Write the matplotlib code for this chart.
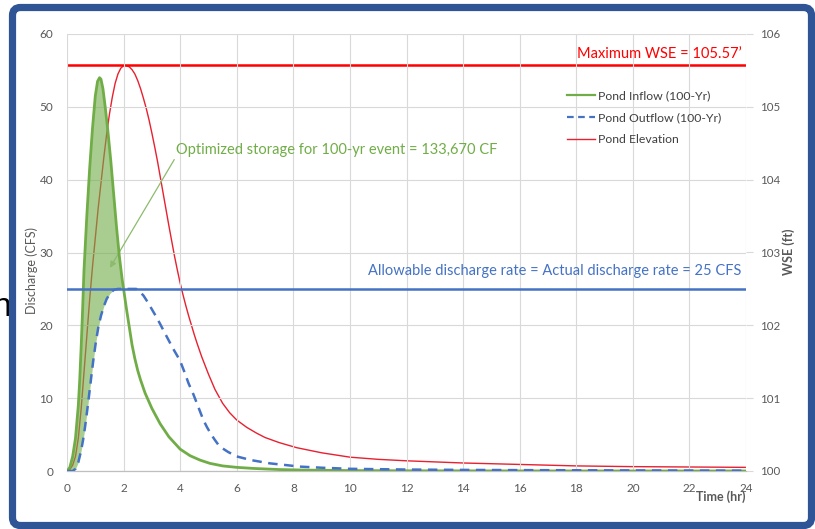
import matplotlib
matplotlib.use("Agg")
import matplotlib.pyplot as plt
import numpy as np
from matplotlib.patches import FancyBboxPatch
from matplotlib.transforms import IdentityTransform
from matplotlib.lines import Line2D

# ---------------- data ----------------
inflow_t = [0, 0.1, 0.2, 0.3, 0.4, 0.45, 0.5, 0.55, 0.6, 0.7, 0.8, 0.9, 1.0, 1.08, 1.15,
            1.2, 1.27, 1.35, 1.45, 1.55, 1.65, 1.75, 1.85, 1.95, 2.0, 2.1, 2.2, 2.3, 2.4,
            2.5, 2.6, 2.76, 3.0, 3.29, 3.6, 4.0, 4.35, 4.7, 5.05, 5.5, 6.0, 6.6, 7.5, 8.5,
            10, 12, 16, 20, 24]
inflow_q = [0, 0.5, 2.0, 4.5, 9.0, 12.5, 17.0, 22.0, 27.5, 35.0, 41.5, 47.0, 51.5, 53.5, 54.0,
            53.8, 52.5, 50.0, 46.5, 42.5, 38.0, 33.5, 29.5, 26.3, 25.0, 22.3, 19.8, 17.3, 15.4,
            13.8, 12.5, 10.7, 8.6, 6.5, 4.7, 3.0, 2.1, 1.5, 1.05, 0.7, 0.5, 0.35, 0.2, 0.12,
            0.06, 0.03, 0.01, 0.0, 0.0]

outflow_t = [0, 0.2, 0.3, 0.4, 0.5, 0.57, 0.64, 0.72, 0.79, 0.86, 0.93, 1.02, 1.11, 1.2, 1.3,
             1.4, 1.52, 1.65, 1.8, 2.45, 2.55, 2.7, 2.85, 3.0, 3.15, 3.29, 3.45, 3.6, 3.75,
             3.9, 4.0, 4.15, 4.3, 4.47, 4.6, 4.72, 4.82, 4.95, 5.1, 5.22, 5.35, 5.5, 5.7, 6.0,
             6.5, 7.17, 8.24, 9, 10, 12, 14, 16, 20, 24]
outflow_q = [0, 0, 0.3, 1.2, 2.8, 4.3, 6.1, 8.5, 10.7, 13.0, 15.2, 17.7, 19.8, 21.3, 22.6,
             23.6, 24.4, 24.85, 25.0, 25.0, 24.7, 24.1, 23.2, 22.2, 21.2, 20.2, 19.0, 17.9, 16.8,
             15.8, 15.1, 13.6, 12.0, 10.5, 9.2, 8.0, 7.0, 6.0, 5.0, 4.3, 3.6, 3.1, 2.6, 2.0,
             1.5, 1.05, 0.6, 0.45, 0.3, 0.2, 0.15, 0.12, 0.08, 0.05]

wse_t = [0, 0.1, 0.2, 0.3, 0.4, 0.5, 0.6, 0.7, 0.8, 0.9, 1.0, 1.1, 1.2, 1.3, 1.4, 1.5, 1.6,
         1.7, 1.8, 1.9, 2.0, 2.05, 2.2, 2.3, 2.4, 2.5, 2.6, 2.7, 2.8, 2.9, 3.0, 3.1, 3.2,
         3.3, 3.4, 3.5, 3.6, 3.7, 3.8, 3.9, 4.0, 4.1, 4.2, 4.3, 4.4, 4.5, 4.6, 4.76, 4.9, 5.0,
         5.23, 5.5, 5.75, 6.0, 6.35, 6.7, 7.0, 7.5, 8.12, 9, 10, 11, 12, 14, 16, 18, 20, 22, 24]
wse_ft = [100.0, 100.02, 100.08, 100.2, 100.45, 100.85, 101.35, 101.85, 102.35, 102.8, 103.2,
          103.6, 103.95, 104.3, 104.62, 104.9, 105.13, 105.32, 105.45, 105.53, 105.565, 105.57,
          105.55, 105.51, 105.45, 105.36, 105.25, 105.12, 104.98, 104.82, 104.64, 104.45,
          104.25, 104.03, 103.81, 103.59, 103.37, 103.16, 102.95, 102.76, 102.58, 102.42,
          102.27, 102.13, 102.0, 101.87, 101.75, 101.57, 101.43, 101.33, 101.12, 100.93,
          100.8, 100.7, 100.6, 100.52, 100.46, 100.39, 100.32, 100.25, 100.19, 100.16,
          100.14, 100.11, 100.09, 100.07, 100.06, 100.055, 100.05]

max_wse = 105.57
allowable_q = 25
storage_cf = "133,670"

x_ticks = list(range(0, 25, 2))
q_ticks = list(range(0, 61, 10))
wse_ticks = list(range(100, 107))

series_labels = ["Pond Inflow (100-Yr)", "Pond Outflow (100-Yr)", "Pond Elevation"]

# ---------------- styling ----------------
FONT = ["Lato", "DejaVu Sans"]
plt.rcParams['font.family'] = FONT
GREEN = "#70AD47"
BLUE = "#4472C4"
RED_LINE = "#E8202F"
RED_MAX = "#FF0000"
GRID = "#D9D9D9"
TICKC = "#595959"

W, H = 815, 529
fig = plt.figure(figsize=(W / 100, H / 100), dpi=100)
fig.patch.set_facecolor("white")

L, R, T, B = 67, 746, 34, 471
ax = fig.add_axes([L / W, 1 - B / H, (R - L) / W, (B - T) / H])
ax2 = ax.twinx()

ax.set_xlim(0, 24)
ax.set_ylim(0, 60)
ax2.set_ylim(100, 106)

ax.set_xticks(x_ticks)
ax.set_yticks(q_ticks)
ax2.set_yticks(wse_ticks)

ax.grid(True, color=GRID, lw=0.8)
ax.set_axisbelow(True)
for a in (ax, ax2):
    for s in a.spines.values():
        s.set_visible(False)
ax.spines['bottom'].set_visible(True)
ax.spines['bottom'].set_color("#BFBFBF")
ax.spines['bottom'].set_linewidth(0.9)

ax.tick_params(axis='x', length=0, pad=9, labelsize=8.5, labelcolor=TICKC)
ax.tick_params(axis='y', length=0, pad=10, labelsize=8.5, labelcolor=TICKC)
ax2.tick_params(axis='y', length=5, width=0.8, color=GRID, pad=5, labelsize=8.3, labelcolor=TICKC)

# WSE on right axis
ax2.plot(wse_t, wse_ft, color=RED_LINE, lw=1.0, zorder=2)
ax2.axhline(max_wse, color=RED_MAX, lw=1.8, zorder=3)

# flows on left axis, drawn above the WSE axis
ax.set_zorder(ax2.get_zorder() + 1)
ax.patch.set_visible(False)

tt = np.union1d(inflow_t, outflow_t)
qi = np.interp(tt, inflow_t, inflow_q)
qo = np.interp(tt, outflow_t, outflow_q)
ax.fill_between(tt, qi, qo, where=(qi >= qo) & (tt <= 2.05), interpolate=True,
                color=GREEN, alpha=0.6, lw=0, zorder=2)

ax.plot(inflow_t, inflow_q, color=GREEN, lw=2.0, zorder=4)
ax.plot(outflow_t, outflow_q, color=BLUE, lw=1.8, ls=(0, (3.8, 2.6)), zorder=4)
ax.axhline(allowable_q, color=BLUE, lw=1.8, zorder=5)

# annotations
ax.text(23.85, 57.3, f"Maximum WSE = {max_wse}\u2019", color=RED_MAX, fontsize=10.5,
        ha="right", va="center")
ax.text(23.85, 27.4, f"Allowable discharge rate = Actual discharge rate = {allowable_q} CFS",
        color=BLUE, fontsize=10.5, ha="right", va="center")
ax.annotate(f"Optimized storage for 100-yr event = {storage_cf} CF",
            xy=(1.52, 27.9), xytext=(3.85, 44.1), color=GREEN, fontsize=10.5,
            ha="left", va="center",
            arrowprops=dict(arrowstyle="-|>", color="#8DBB6C", lw=0.9,
                            shrinkA=0, shrinkB=0, mutation_scale=9,
                            relpos=(0.0, 0.0)))

# axis labels
ax.set_ylabel("Discharge (CFS)", fontsize=9, color=TICKC)
ax.yaxis.set_label_coords((38 - L) / (R - L), (B - 271) / (B - T))
ax2.set_ylabel("WSE (ft)", fontsize=9, color=TICKC, fontweight="bold")
ax2.yaxis.set_label_coords((782 - L) / (R - L), (B - 252) / (B - T))
fig.text(721 / W, 1 - 497 / H, "Time (hr)", fontsize=9, fontweight="bold", color=TICKC,
         ha="center", va="center")

# legend
handles = [Line2D([], [], color=GREEN, lw=1.6),
           Line2D([], [], color=BLUE, lw=1.6, ls=(0, (3, 2))),
           Line2D([], [], color=RED_LINE, lw=1.0)]
leg = ax.legend(handles, series_labels, loc="upper left",
                bbox_to_anchor=((567 - L) / (R - L), (B - 90) / (B - T)),
                frameon=False, fontsize=8.8, handlelength=2.3, handletextpad=0.25,
                labelspacing=0.9, borderaxespad=0, borderpad=0)
for t in leg.get_texts():
    t.set_color("#404040")

# frame border around the picture
border = FancyBboxPatch((12.5, 3.5), 799, 518, boxstyle="round,pad=0,rounding_size=8",
                        transform=IdentityTransform(), facecolor="none",
                        edgecolor="#2F5597", lw=5.2, zorder=10)
fig.patches.append(border)

# cut-off letter at left edge (from the slide behind)
fig.text(-7 / W, 1 - 307 / H, "n", fontsize=24, color="black", ha="left", va="center",
         family=["Liberation Sans"])

fig.savefig("out.png", dpi=100, facecolor="white")
